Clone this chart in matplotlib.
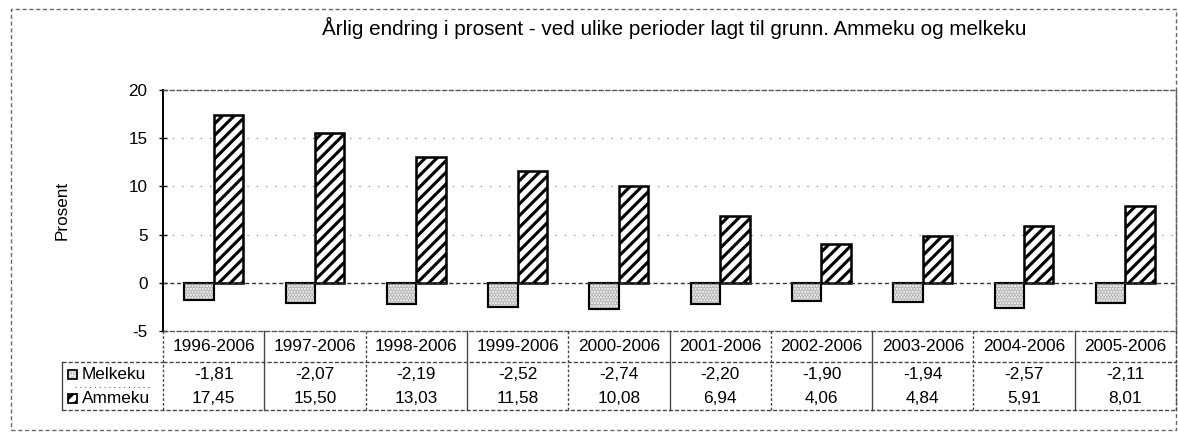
import matplotlib
matplotlib.use("Agg")
import matplotlib.pyplot as plt
from matplotlib.transforms import blended_transform_factory
from matplotlib.lines import Line2D
from matplotlib.patches import Rectangle

plt.rcParams['font.family'] = ['Liberation Sans', 'DejaVu Sans']
plt.rcParams['hatch.linewidth'] = 1.6

categories = ["1996-2006", "1997-2006", "1998-2006", "1999-2006", "2000-2006",
              "2001-2006", "2002-2006", "2003-2006", "2004-2006", "2005-2006"]
melkeku = [-1.81, -2.07, -2.19, -2.52, -2.74, -2.20, -1.90, -1.94, -2.57, -2.11]
ammeku = [17.45, 15.50, 13.03, 11.58, 10.08, 6.94, 4.06, 4.84, 5.91, 8.01]
series_names = ["Melkeku", "Ammeku"]
yticks = [-5, 0, 5, 10, 15, 20]
title = "Årlig endring i prosent - ved ulike perioder lagt til grunn. Ammeku og melkeku"

W, H = 1178, 435
DPI = 140
fig = plt.figure(figsize=(W / DPI, H / DPI), dpi=DPI)

def fx(px):
    return px / W

def fy(py):
    return 1 - py / H

ax = fig.add_axes([fx(163), fy(331), fx(1176) - fx(163), fy(90) - fy(331)])
x = list(range(len(categories)))
bw = 0.29
xm = [i - bw / 2 for i in x]
xa = [i + bw / 2 for i in x]

# Melkeku: stippled light grey
ax.bar(xm, melkeku, width=bw, color='#f4f4f4', hatch='........', edgecolor='#b8b8b8',
       linewidth=0, zorder=3)
ax.bar(xm, melkeku, width=bw, fill=False, edgecolor='black', linewidth=1.1, zorder=4)
# Ammeku: diagonal hatch
ax.bar(xa, ammeku, width=bw, color='white', hatch='////', edgecolor='black',
       linewidth=1.3, zorder=3)

ax.set_xlim(-0.5, len(categories) - 0.5)
ax.set_ylim(-5, 20)
ax.set_yticks(yticks)
ax.set_yticklabels([str(v) for v in yticks], fontsize=8.8)
ax.set_xticks([])
for v in yticks[2:-1]:
    ax.axhline(v, color='#777777', lw=0.6, ls=(0, (1, 7)), zorder=1)
ax.axhline(0, color='#333333', lw=0.7, ls=(0, (3, 2)), zorder=5)
for s in ['top', 'right', 'bottom']:
    ax.spines[s].set_linestyle((0, (3, 2)))
    ax.spines[s].set_color('#555555')
    ax.spines[s].set_linewidth(0.7)
ax.spines['left'].set_color('black')
ax.spines['left'].set_linewidth(1.0)
ax.tick_params(axis='y', direction='inout', length=4, width=0.7, pad=6)

fig.text(fx(674), fy(28), title, ha='center', va='center', fontsize=10.6)
fig.text(fx(62), fy(210), "Prosent", rotation=90, ha='center', va='center', fontsize=8.8)

# outer chart border
fig.add_artist(Rectangle((fx(11), fy(430)), fx(1176) - fx(11), fy(9) - fy(430),
                         transform=fig.transFigure, fill=False, edgecolor='#666666',
                         lw=0.7, ls=(0, (3, 2))))

# data table
tr = blended_transform_factory(ax.transData, fig.transFigure)
lc = '#444444'
def hline(x0, x1, y, ls='-', lw=0.7, t=fig.transFigure):
    fig.add_artist(Line2D([x0, x1], [y, y], transform=t, color=lc, lw=lw, ls=ls))

def vline(xv, y0, y1, t, ls='-', lw=0.7):
    fig.add_artist(Line2D([xv, xv], [y0, y1], transform=t, color=lc, lw=lw, ls=ls))

n = len(categories)
for k in range(n + 1):
    vline(k - 0.5, fy(331), fy(410), tr, ls=(0, (2, 1.5)) if k % 2 == 0 else '-', lw=0.7)
hline(fx(163), fx(1176), fy(362), ls=(0, (3, 1.5)))
hline(fx(62), fx(163), fy(362), ls=(0, (3, 1.5)))
hline(fx(62), fx(1176), fy(410), ls=(0, (3, 1.5)))
vline(fx(62), fy(362), fy(410), fig.transFigure)
hline(fx(75), fx(150), fy(387), ls=(0, (1, 4)), lw=0.5)

for i, c in enumerate(categories):
    fig.text(i, fy(346.5), c, transform=tr, ha='center', va='center', fontsize=8.9)
    fig.text(i, fy(374.5), f"{melkeku[i]:.2f}".replace('.', ','), transform=tr,
             ha='center', va='center', fontsize=8.9)
    fig.text(i, fy(398.5), f"{ammeku[i]:.2f}".replace('.', ','), transform=tr,
             ha='center', va='center', fontsize=8.9)

# legend keys in row headers
ks = 9
fig.add_artist(Rectangle((fx(68), fy(379)), fx(ks), fy(0) - fy(ks), transform=fig.transFigure,
                         facecolor='#f4f4f4', hatch='.....', edgecolor='#b8b8b8', lw=0))
fig.add_artist(Rectangle((fx(68), fy(379)), fx(ks), fy(0) - fy(ks), transform=fig.transFigure,
                         fill=False, edgecolor='black', lw=0.9))
fig.add_artist(Rectangle((fx(68), fy(403)), fx(ks), fy(0) - fy(ks), transform=fig.transFigure,
                         facecolor='white', hatch='////', edgecolor='black', lw=0.9))
fig.text(fx(82), fy(374.5), series_names[0], ha='left', va='center', fontsize=8.9)
fig.text(fx(82), fy(398.5), series_names[1], ha='left', va='center', fontsize=8.9)

fig.savefig("out.png", dpi=DPI)
